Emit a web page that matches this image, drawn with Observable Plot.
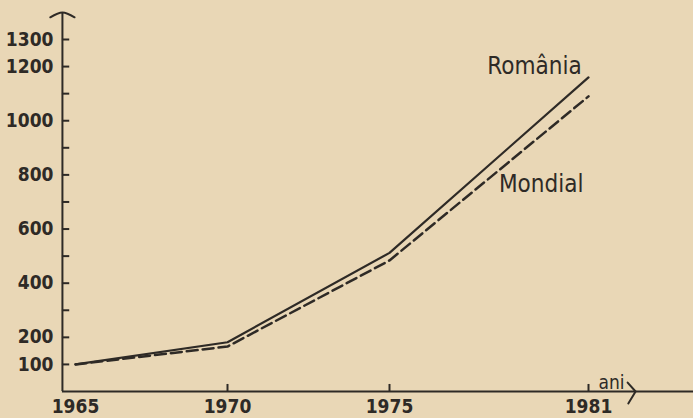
<!DOCTYPE html>
<html>
<head>
<meta charset="utf-8">
<script src="https://cdn.jsdelivr.net/npm/d3@7"></script>
<script src="https://cdn.jsdelivr.net/npm/@observablehq/plot@0.6"></script>
<style>
  html, body { margin: 0; padding: 0; background: #e9d7b6; }
  #chart svg { display: block; background: #e9d7b6; }
</style>
</head>
<body>
<div id="chart"></div>
<script>
// ---- data ----
const years = [1965, 1970, 1975, 1981];
const romania = [100, 182, 512, 1160];
const mondial = [100, 166, 484, 1090];
const yTickValues = [100, 200, 300, 400, 500, 600, 700, 800, 900, 1000, 1100, 1200, 1300];
const yTickLabels = [100, 200, 400, 600, 800, 1000, 1200, 1300];
const xTickLabels = ["1965", "1970", "1975", "1981"];
const seriesNames = ["România", "Mondial"];
const axisName = "ani";

// ---- layout (scale anchors & annotation anchors) ----
const ink = "#2e2a26";
const font = "'Liberation Sans Narrow', 'DejaVu Sans Condensed', 'Liberation Sans', sans-serif";
const xAxisAt = 1964.57, xAxisEnd = 1984.2, yAxisTop = 1400;
const labelAnchors = [{x: 1977.95, y: 1174}, {x: 1978.3, y: 738}];

const rows = [];
years.forEach((yr, i) => {
  rows.push({year: yr, value: romania[i], series: seriesNames[0]});
  rows.push({year: yr, value: mondial[i], series: seriesNames[1]});
});
const rowsR = rows.filter(d => d.series === seriesNames[0]);
const rowsM = rows.filter(d => d.series === seriesNames[1]);

const chart = Plot.plot({
  width: 693,
  height: 418,
  margin: 0,
  style: {background: "transparent", overflow: "visible", color: ink},
  x: {type: "linear", domain: years, range: [75, 227, 389, 588], axis: null},
  y: {type: "linear", domain: [0, 1300], range: [391, 39], axis: null},
  marks: [
    // axes
    Plot.ruleY([0], {x1: xAxisAt, x2: xAxisEnd, stroke: ink, strokeWidth: 2}),
    Plot.ruleX([xAxisAt], {y1: 0, y2: yAxisTop, stroke: ink, strokeWidth: 2}),
    // y arrow head
    Plot.line([[xAxisAt - 0.4, yAxisTop - 18], [xAxisAt, yAxisTop], [xAxisAt + 0.4, yAxisTop - 18]],
      {stroke: ink, strokeWidth: 2, curve: "natural"}),
    // x arrow head (chevron)
    Plot.line([[1982.18, 33], [1982.42, 0], [1982.2, -44]], {stroke: ink, strokeWidth: 2}),
    // y ticks
    Plot.ruleY(yTickValues, {x1: xAxisAt, x2: xAxisAt + 0.24, stroke: ink, strokeWidth: 2}),
    // x ticks
    Plot.ruleX(years.slice(1), {y1: 0, y2: 26, stroke: ink, strokeWidth: 2}),
    // y labels
    Plot.text(yTickLabels, {x: xAxisAt, y: d => d, text: d => String(d), textAnchor: "end", dx: -9,
      fontSize: 19, fontWeight: "bold", fontFamily: font, fill: ink, letterSpacing: "-0.5px"}),
    // x labels
    Plot.text(years, {x: d => d, y: 0, text: (d, i) => xTickLabels[i], dy: 15, dx: 0,
      fontSize: 19, fontWeight: "bold", fontFamily: font, fill: ink, letterSpacing: "-0.5px"}),
    Plot.text([axisName], {x: 1981.3, y: 0, text: d => d, textAnchor: "start", lineAnchor: "bottom", dy: -3,
      fontSize: 19, fontFamily: font, fill: ink}),
    // series
    Plot.line(rowsR, {x: "year", y: "value", stroke: ink, strokeWidth: 2.2}),
    Plot.line(rowsM, {x: "year", y: "value", stroke: ink, strokeWidth: 2.5, strokeDasharray: "11,5"}),
    // series labels
    Plot.text(seriesNames, {x: (d, i) => labelAnchors[i].x, y: (d, i) => labelAnchors[i].y, text: d => d,
      textAnchor: "start", lineAnchor: "bottom", fontSize: 24, fontFamily: font, fill: ink})
  ]
});
document.getElementById("chart").appendChild(chart);
</script>
</body>
</html>
